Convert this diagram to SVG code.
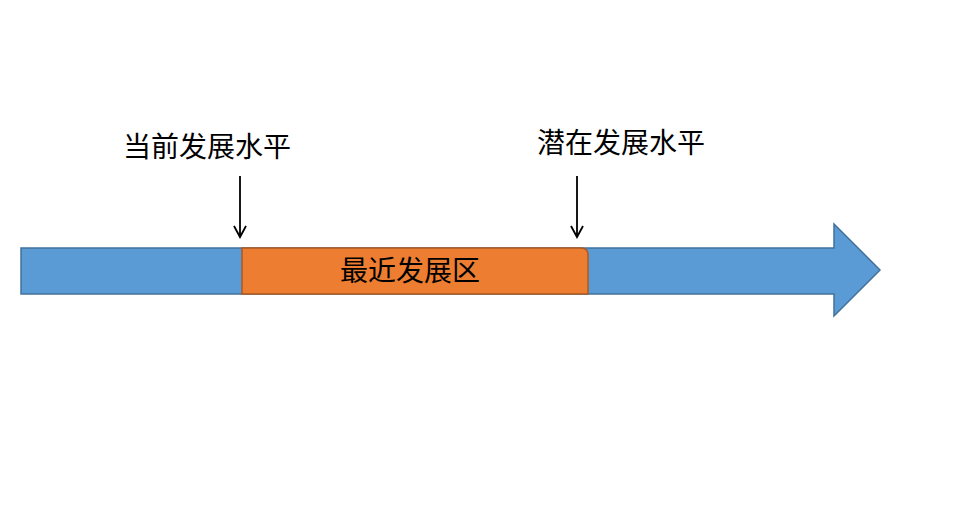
<svg xmlns="http://www.w3.org/2000/svg" width="964" height="510" viewBox="0 0 964 510">
<defs>
<style>
.lbl{font-family:"Liberation Sans","Noto Sans CJK SC",sans-serif;font-size:28px;fill:#000;}
.ptr{stroke:#000;stroke-width:1.8;fill:none;}
</style>
</defs>
<rect width="964" height="510" fill="#fff"/>
<g id="timeline">
<path d="M21,248 H834 V224 L880,270 L834,316 V294 H21 Z" fill="#5B9BD5" stroke="#41719C" stroke-width="1.5"/>
</g>
<g id="zone">
<path d="M242,248 H581 Q588,248 588,255 V294 H242 Z" fill="#ED7D31" stroke="#AE5A21" stroke-width="1.5"/>
<text class="lbl" x="410" y="281" text-anchor="middle">最近发展区</text>
</g>
<g id="current">
<text class="lbl" x="207" y="157" text-anchor="middle">当前发展水平</text>
</g>
<g id="potential">
<text class="lbl" x="621" y="153" text-anchor="middle">潜在发展水平</text>
</g>
<g id="connectors">
<path class="ptr" d="M240,176 V237 M234,226 L240,237 L246,226"/>
<path class="ptr" d="M577,176 V237 M571,226 L577,237 L583,226"/>
</g>
</svg>
